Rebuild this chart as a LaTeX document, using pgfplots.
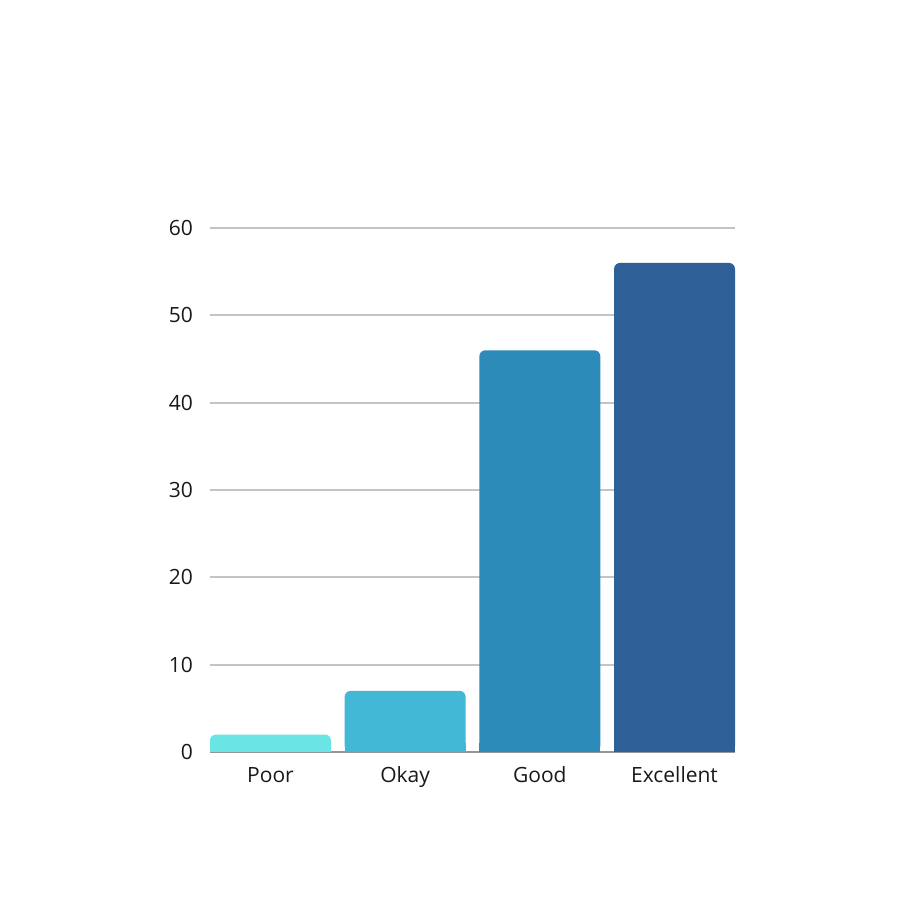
\documentclass[border=0pt]{standalone}
\usepackage{fontspec}
\setmainfont{Open Sans}
\usepackage{pgfplots}
\pgfplotsset{compat=1.18}
\definecolor{cPoor}{RGB}{107,228,230}
\definecolor{cOkay}{RGB}{67,184,214}
\definecolor{cGood}{RGB}{45,139,185}
\definecolor{cExc}{RGB}{46,95,150}
\definecolor{gridc}{RGB}{195,195,195}
\definecolor{basec}{RGB}{150,150,150}
\begin{document}
\begin{tikzpicture}[x=1pt,y=1pt]
\path[use as bounding box, fill=white] (0,0) rectangle (900,900);
\begin{axis}[
  at={(210pt,148pt)}, anchor=south west,
  scale only axis, width=525pt, height=524pt,
  xmin=-0.449, xmax=3.449, ymin=0, ymax=60,
  axis line style={draw=none},
  major tick length=0pt,
  xtick={0,1,2,3},
  xticklabels={Poor,Okay,Good,Excellent},
  ytick={10,20,30,40,50,60},
  extra y ticks={0},
  extra y tick style={grid style={draw=basec, line width=1.5pt}},
  ymajorgrids,
  grid style={draw=gridc, line width=2pt},
  tick label style={font=\fontsize{21}{24}\selectfont, text=black!90},
  y tick label style={anchor=east, inner sep=0pt, xshift=-17pt},
  x tick label style={anchor=base, inner sep=0pt, yshift=-31pt},
  /pgf/number format/assume math mode=true,
  ybar, bar width=0.898,
  clip=false,
]
\addplot[ybar, bar shift=0pt, fill=cPoor, draw=none, rounded corners=6pt] coordinates {(0,2)};
\addplot[ybar, bar shift=0pt, fill=cOkay, draw=none, rounded corners=6pt] coordinates {(1,7)};
\addplot[ybar, bar shift=0pt, fill=cGood, draw=none, rounded corners=6pt] coordinates {(2,46)};
\addplot[ybar, bar shift=0pt, fill=cExc, draw=none, rounded corners=6pt] coordinates {(3,56)};
% square-cornered bases to hide the lower rounding
\addplot[ybar, bar shift=0pt, fill=cPoor, draw=none] coordinates {(0,1)};
\addplot[ybar, bar shift=0pt, fill=cOkay, draw=none] coordinates {(1,1)};
\addplot[ybar, bar shift=0pt, fill=cGood, draw=none] coordinates {(2,1)};
\addplot[ybar, bar shift=0pt, fill=cExc, draw=none] coordinates {(3,1)};
\end{axis}
\end{tikzpicture}
\end{document}
